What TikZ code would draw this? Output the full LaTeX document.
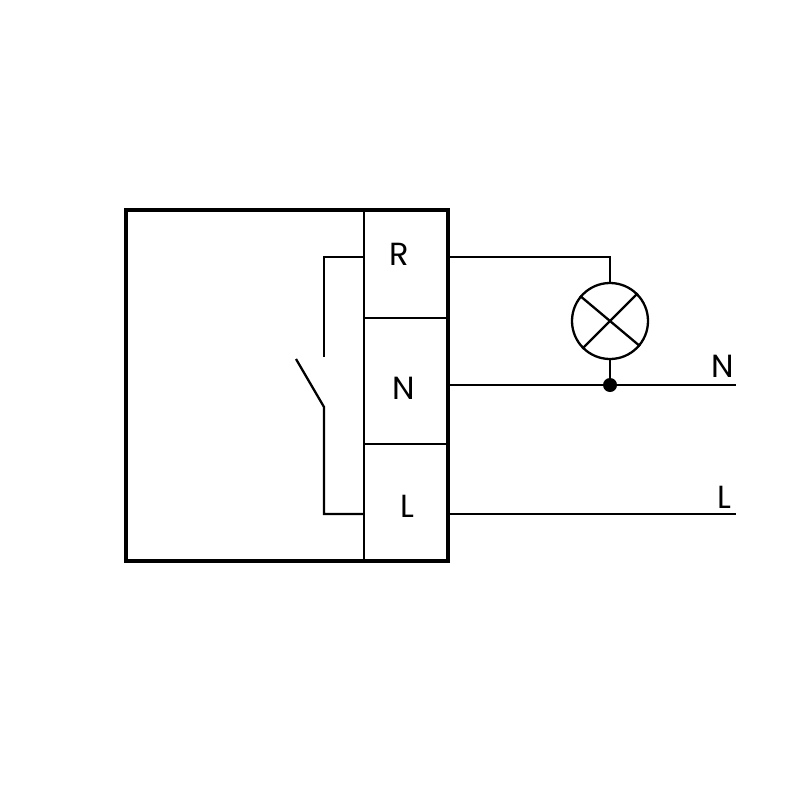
\documentclass[tikz,border=0pt]{standalone}
\usepackage{fontspec}
\setmainfont{Poppins}
\begin{document}
\begin{tikzpicture}
[x = 1pt, y = -1pt, line join = miter,
 wire/.style = {line width = 2.3pt},
 frame/.style = {shape = rectangle, draw, line width = 4pt, minimum width = 322pt, minimum height = 351pt, inner sep = 0pt},
 lamp/.style = {shape = circle, draw, line width = 2.3pt, minimum size = 76pt, inner sep = 0pt},
 joint/.style = {shape = circle, fill = black, minimum size = 14pt, inner sep = 0pt},
 letter/.style = {inner sep = 0pt, font = \fontsize{32}{32}\selectfont}]
\useasboundingbox (0,0) rectangle (800,800);
\node[frame] (box) at (287,385.5) {};
\node[lamp] (bulb) at (610,321) {};
\node[joint] (dot) at (610,385) {};
\node[letter] (labelR) at (399,254) {R};
\node[letter] (labelN) at (404,388) {N};
\node[letter] (labelL) at (407,506) {L};
\node[letter] (lineN) at (723,366) {N};
\node[letter] (lineL) at (724,497) {L};
% terminal block
\coordinate (top) at (364,210);
\coordinate (bottom) at (364,561);
\coordinate (sepRa) at (364,318);
\coordinate (sepRb) at (446,318);
\coordinate (sepLa) at (364,444);
\coordinate (sepLb) at (446,444);
\draw[wire] (top) -- (bottom);
\draw[wire] (sepRa) -- (sepRb);
\draw[wire] (sepLa) -- (sepLb);
% switch
\coordinate (inR) at (364,257);
\coordinate (inL) at (364,514);
\coordinate (contactA) at (324,357);
\coordinate (contactB) at (324,407);
\coordinate (blade) at (296,359);
\draw[wire] (inR) -| (contactA);
\draw[wire] (inL) -| (contactB) -- (blade);
% outside wiring
\coordinate (outR) at (448,257);
\coordinate (outN) at (448,385);
\coordinate (outL) at (448,514);
\coordinate (endN) at (736,385);
\coordinate (endL) at (736,514);
\draw[wire] (outR) -| (bulb.north);
\draw[wire] (bulb.south) -- (dot);
\draw[wire] (outN) -- (dot) -- (endN);
\draw[wire] (outL) -- (endL);
% lamp cross
\draw[wire] (bulb.140) -- (bulb.320);
\draw[wire] (bulb.45) -- (bulb.225);
\end{tikzpicture}
\end{document}
